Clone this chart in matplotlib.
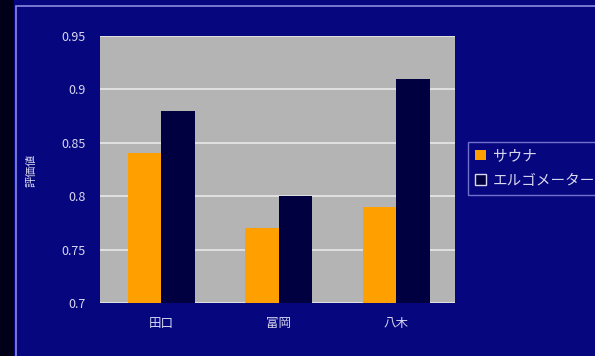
import matplotlib.pyplot as plt
from matplotlib.patches import Rectangle
import numpy as np

plt.rcParams["font.family"] = ["Noto Sans CJK JP", "DejaVu Sans"]

categories = ["田口", "富岡", "八木"]
sauna = [0.84, 0.77, 0.79]
ergometer = [0.88, 0.80, 0.91]
series_names = ["サウナ", "エルゴメーター"]
yticks = [0.7, 0.75, 0.8, 0.85, 0.9, 0.95]
ytick_labels = ["0.7", "0.75", "0.8", "0.85", "0.9", "0.95"]
ylabel = "評価値"

bg = "#06067e"
txt = "#d8d8f0"

W, H = 595, 356
fig = plt.figure(figsize=(W / 100, H / 100), dpi=100)
fig.patch.set_facecolor(bg)

# dark strip on the left and thin frame line
fig.add_artist(Rectangle((0, 0), 14 / W, 1, transform=fig.transFigure,
                         facecolor="#000018", edgecolor="none", zorder=0))
fig.add_artist(Rectangle((16 / W, -0.2), 1.2, 1.2 - 6 / H,
                         transform=fig.transFigure, facecolor="none",
                         edgecolor="#8c8ce0", lw=1.2, zorder=1))

ax = fig.add_axes([100 / W, 53 / H, 355 / W, 267 / H])
ax.set_facecolor("#b4b4b4")

x = np.arange(len(categories))
w = 0.285
ax.bar(x - w / 2, sauna, w, color="#ffa000", label=series_names[0], zorder=2)
ax.bar(x + w / 2, ergometer, w, color="#000040", label=series_names[1],
       zorder=2)

ax.set_xlim(-0.52, 2.5)
ax.set_ylim(0.7, 0.95)
ax.set_yticks(yticks)
ax.set_yticklabels(ytick_labels)
ax.set_xticks(x)
ax.set_xticklabels(categories)
ax.yaxis.grid(True, color="#e8e8e8", lw=1.2, zorder=1)
ax.set_axisbelow(True)
ax.tick_params(length=0, colors=txt, labelsize=9, pad=10)
ax.tick_params(axis="x", pad=10)
for s in ax.spines.values():
    s.set_visible(False)

fig.text(32 / W, 1 - 170 / H, ylabel, rotation=90, color=txt,
         fontsize=8, ha="center", va="center")

leg = ax.legend(loc="upper left", bbox_to_anchor=(468 / W, 1 - 142 / H),
                bbox_transform=fig.transFigure, frameon=True, fontsize=10.5,
                handlelength=0.7, handleheight=0.7, handletextpad=0.5,
                borderaxespad=0, labelspacing=0.7, borderpad=0.5,
                fancybox=False)
leg.get_frame().set_facecolor(bg)
leg.get_frame().set_edgecolor("#8c8ce0")
for t in leg.get_texts():
    t.set_color(txt)
leg.legend_handles[1].set_edgecolor(txt)

fig.savefig("out.png", dpi=100, facecolor=bg)
